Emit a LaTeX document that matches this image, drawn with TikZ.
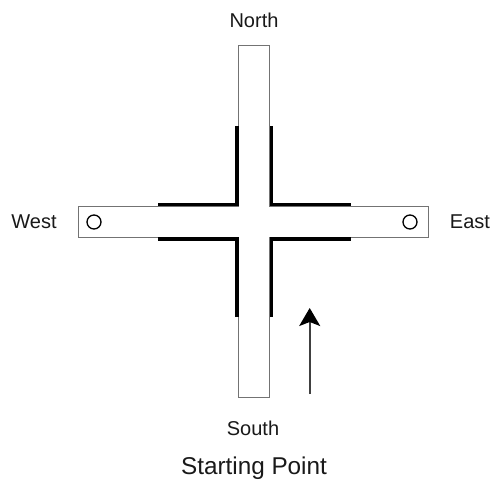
\documentclass[tikz,border=0pt]{standalone}
\usepackage{fontspec}
\setmainfont{Liberation Sans}
\usetikzlibrary{arrows.meta}
\tikzset{
  road/.style={draw=black!55,line width=1pt,fill=white},
  wall/.style={draw=black,line width=3.8pt,line cap=butt,line join=miter},
  peg/.style={circle,draw=black,line width=1.3pt,fill=white,minimum size=14pt,inner sep=0pt},
  lab/.style={font=\fontsize{20}{24}\selectfont,text=black!90,inner sep=0pt},
  title/.style={font=\fontsize{24.3}{28}\selectfont,text=black!90,inner sep=0pt},
  dirarrow/.style={draw=black!75,line width=1.9pt,-{Stealth[length=18pt,width=21pt,inset=4pt,color=black]}}
}
\begin{document}
\begin{tikzpicture}[x=1pt,y=-1pt]
\useasboundingbox (0,0) rectangle (490,482);
\fill[white] (0,0) rectangle (490,482);
% road cross
\draw[road] (238.5,45.5) -- (269.5,45.5) -- (269.5,206.5) -- (428,206.5) -- (428,237.5)
  -- (269.5,237.5) -- (269.5,397.5) -- (238.5,397.5) -- (238.5,237.5) -- (78.5,237.5)
  -- (78.5,206.5) -- (238.5,206.5) -- cycle;
% walls
\draw[wall] (237,126) -- (237,204.5) -- (158,204.5);
\draw[wall] (271.5,126) -- (271.5,204.5) -- (350.5,204.5);
\draw[wall] (237,317) -- (237,239) -- (158,239);
\draw[wall] (271.5,317) -- (271.5,239) -- (350.5,239);
% pegs
\node[peg] (pegw) at (94,222) {};
\node[peg] (pege) at (410,222) {};
% labels
\node[lab] (north) at (254,20) {North};
\node[lab] (south) at (253,428) {South};
\node[lab] (west) at (34,222) {West};
\node[lab] (east) at (470,222) {East};
\node[title] (start) at (254,468) {Starting Point};
% arrow
\coordinate (atail) at (309.7,394);
\coordinate (ahead) at (309.7,308);
\draw[dirarrow] (atail) -- (ahead);
\end{tikzpicture}
\end{document}
